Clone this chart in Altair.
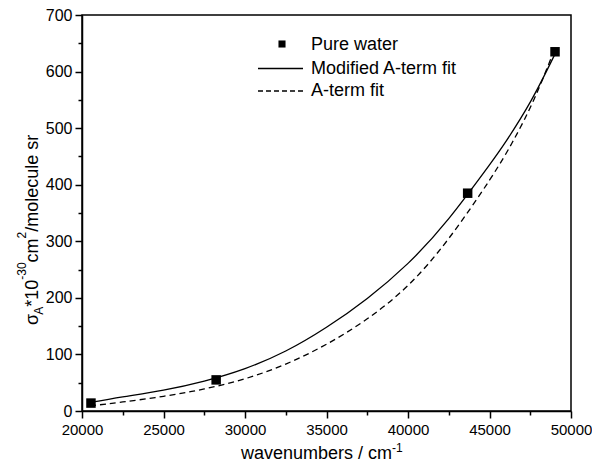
import altair as alt
import pandas as pd

# ---- data ----
water_x = [20550, 28230, 43660, 49020]
water_y = [14, 55, 385, 635]

mod_x = [20500, 22500, 25000, 27500, 30000, 32500, 35000, 37500, 40000, 42500, 45000, 46000, 47500, 49000]
mod_y = [15, 25, 37, 53, 75, 106, 148, 199, 261, 340, 435, 476, 546, 630]

aterm_x = [20500, 22500, 25000, 27500, 30000, 32500, 35000, 37500, 40000, 42500, 45000, 46500, 47750, 49000]
aterm_y = [9, 16, 26, 39, 57, 83, 118, 163, 222, 305, 408, 480, 552, 640]

x_ticks = [20000, 25000, 30000, 35000, 40000, 45000, 50000]
x_minor = [22500, 27500, 32500, 37500, 42500, 47500]
y_ticks = [0, 100, 200, 300, 400, 500, 600, 700]
y_minor = [50, 150, 250, 350, 450, 550, 650]

legend_labels = ["Pure water", "Modified A-term fit", "A-term fit"]

FONT = "Liberation Sans"
OX, OY = 82, 15          # plot origin in page pixels
W, H = 489, 411 - OY

pts = pd.DataFrame({"x": water_x, "y": water_y})
mod = pd.DataFrame({"x": mod_x, "y": mod_y})
aterm = pd.DataFrame({"x": aterm_x, "y": aterm_y})

xscale = alt.Scale(domain=[20000, 50000], nice=False, zero=False)
yscale = alt.Scale(domain=[0, 700], nice=False, zero=False)

x_axis = alt.Axis(
    values=sorted(x_ticks + x_minor),
    labelExpr="datum.value % 5000 === 0 ? datum.label : ''",
    format="d", labelFlush=False, labelOverlap=False,
    tickSize={"condition": {"test": "datum.value % 5000 === 0", "value": 7}, "value": 4},
    labelFontSize=15, labelPadding=4, title=None, grid=False,
)
y_axis = alt.Axis(
    values=sorted(y_ticks + y_minor),
    labelExpr="datum.value % 100 === 0 ? datum.label : ''",
    labelFlush=False, labelOverlap=False,
    tickSize={"condition": {"test": "datum.value % 100 === 0", "value": 7}, "value": 4},
    labelFontSize=16, labelPadding=3, title=None, grid=False,
)

base_x = alt.X("x:Q", scale=xscale, axis=x_axis)
base_y = alt.Y("y:Q", scale=yscale, axis=y_axis)

line_mod = alt.Chart(mod).mark_line(color="black", strokeWidth=1.3, interpolate="natural").encode(
    x=base_x, y=base_y)
line_aterm = alt.Chart(aterm).mark_line(color="black", strokeWidth=1.3, strokeDash=[6, 4],
                                        interpolate="natural").encode(x=base_x, y=base_y)
points = alt.Chart(pts).mark_square(color="black", size=90, opacity=1).encode(x=base_x, y=base_y)

one = pd.DataFrame({"a": [0]})


def txt(s, px, py, size=18, angle=0, align="left", baseline="middle"):
    return alt.Chart(one).mark_text(
        text=s, font=FONT, fontSize=size, angle=angle, align=align, baseline=baseline, color="black"
    ).encode(x=alt.value(px - OX), y=alt.value(py - OY))


# legend
leg = [
    alt.Chart(one).mark_square(color="black", size=50, opacity=1).encode(
        x=alt.value(282 - OX), y=alt.value(44 - OY)),
    alt.Chart(one).mark_rule(color="black", strokeWidth=1.3).encode(
        x=alt.value(258 - OX), x2=alt.value(303 - OX), y=alt.value(68.5 - OY)),
    alt.Chart(one).mark_rule(color="black", strokeWidth=1.3, strokeDash=[5, 3]).encode(
        x=alt.value(258 - OX), x2=alt.value(303 - OX), y=alt.value(91 - OY)),
    txt(legend_labels[0], 311, 45),
    txt(legend_labels[1], 311, 68.5),
    txt(legend_labels[2], 311, 91),
]

# x axis title with superscript
xt = [
    txt("wavenumbers / cm", 241, 459, baseline="alphabetic"),
    txt("-1", 241 + 151, 452, size=12, baseline="alphabetic"),
]

# y axis title pieces (rotated, reading upward)
main_bx, sup_bx, sub_bx = 38, 26, 43
pieces = [
    ("σ", 18, main_bx, 10.3),
    ("A", 12, sub_bx, 8.0),
    ("*10", 18, main_bx, 27.0),
    ("-30", 12, sup_bx, 17.3),
    ("cm", 18, main_bx, 24.0),
    ("2", 12, sup_bx, 6.7),
    ("/molecule sr", 18, main_bx, 97.0),
]
yt = []
ypos = 325
for s, fs, bx, w in pieces:
    yt.append(txt(s, bx, ypos, size=fs, angle=270, baseline="alphabetic"))
    ypos -= w

chart = alt.layer(line_mod, line_aterm, points, *leg, *xt, *yt).properties(
    width=W, height=H,
    autosize=alt.AutoSizeParams(type="none"),
    padding={"left": OX - 8, "top": OY - 8, "right": 21, "bottom": 56},
).configure_view(stroke="black", strokeWidth=1.5).configure_axis(
    domainColor="black", domainWidth=1.5, tickColor="black", tickWidth=1.5,
    labelColor="black", labelFont=FONT,
).configure_text(font=FONT)

chart.save("out.html", embed_options={"renderer": "svg", "actions": False})
